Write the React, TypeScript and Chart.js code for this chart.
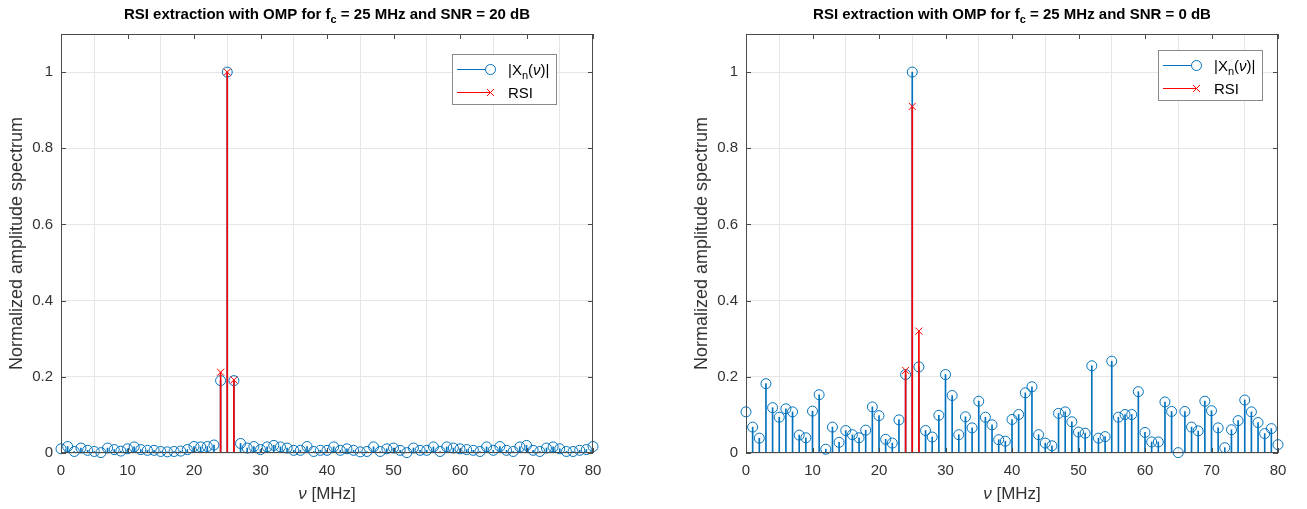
import React, { useEffect, useRef } from 'react';
import { Chart, registerables } from 'chart.js';
Chart.register(...registerables);

const FREQ: number[] = Array.from({ length: 81 }, (_, i) => i);
const X_TICKS = [0, 10, 20, 30, 40, 50, 60, 70, 80];
const Y_TICKS = [0, 0.2, 0.4, 0.6, 0.8, 1];

const AMP_20DB = [
  0.011, 0.017, 0.004, 0.013, 0.007, 0.004, 0.001, 0.013, 0.009, 0.005,
  0.011, 0.016, 0.009, 0.007, 0.007, 0.004, 0.003, 0.004, 0.005, 0.009,
  0.017, 0.016, 0.017, 0.021, 0.19, 1.0, 0.19, 0.025, 0.013, 0.017,
  0.009, 0.016, 0.02, 0.016, 0.013, 0.007, 0.007, 0.017, 0.004, 0.007,
  0.007, 0.016, 0.007, 0.011, 0.007, 0.003, 0.004, 0.016, 0.004, 0.011,
  0.013, 0.007, 0.001, 0.013, 0.007, 0.007, 0.016, 0.004, 0.016, 0.013,
  0.011, 0.009, 0.007, 0.004, 0.016, 0.007, 0.017, 0.007, 0.004, 0.016,
  0.02, 0.007, 0.004, 0.013, 0.016, 0.011, 0.004, 0.004, 0.007, 0.009,
  0.017,
];
const RSI_X_20DB = [24, 25, 26];
const RSI_20DB = [0.212, 1.0, 0.192];

const AMP_0DB = [
  0.108, 0.068, 0.039, 0.182, 0.119, 0.094, 0.116, 0.108, 0.047, 0.04,
  0.11, 0.153, 0.01, 0.068, 0.028, 0.059, 0.048, 0.04, 0.06, 0.121,
  0.098, 0.036, 0.026, 0.087, 0.206, 1.0, 0.226, 0.059, 0.042, 0.099,
  0.206, 0.151, 0.048, 0.095, 0.066, 0.136, 0.094, 0.074, 0.035, 0.031,
  0.088, 0.101, 0.158, 0.174, 0.048, 0.026, 0.019, 0.104, 0.108, 0.082,
  0.055, 0.052, 0.229, 0.039, 0.043, 0.241, 0.094, 0.101, 0.101, 0.161,
  0.054, 0.029, 0.029, 0.134, 0.109, 0.001, 0.109, 0.068, 0.058, 0.136,
  0.111, 0.066, 0.014, 0.061, 0.085, 0.139, 0.108, 0.08, 0.051, 0.064,
  0.022,
];
const RSI_X_0DB = [24, 25, 26];
const RSI_0DB = [0.217, 0.91, 0.32];

const BLUE = '#0072BD';
const RED = '#FF0000';
const FONT = '"Liberation Sans", Arial, Helvetica, sans-serif';
const TEXT = '#333333';

type Part = { t: string; size: number; bold?: boolean; italic?: boolean; dy?: number };

function drawParts(ctx: CanvasRenderingContext2D, parts: Part[], x: number, y: number, align: 'left' | 'center') {
  const fontOf = (p: Part) => `${p.italic ? 'italic ' : ''}${p.bold ? 'bold ' : ''}${p.size}px ${FONT}`;
  let total = 0;
  for (const p of parts) { ctx.font = fontOf(p); total += ctx.measureText(p.t).width; }
  let cx = align === 'center' ? x - total / 2 : x;
  ctx.textAlign = 'left';
  ctx.textBaseline = 'alphabetic';
  for (const p of parts) {
    ctx.font = fontOf(p);
    ctx.fillText(p.t, cx, y + (p.dy || 0));
    cx += ctx.measureText(p.t).width;
  }
}

const decor = {
  id: 'decor',
  afterDraw(chart: any, _a: any, opts: any) {
    const { ctx, chartArea: a } = chart;
    const xs = chart.scales.x, ys = chart.scales.y;
    ctx.save();
    // box
    ctx.strokeStyle = '#4a4a4a';
    ctx.lineWidth = 1;
    ctx.strokeRect(Math.round(a.left) + 0.5, Math.round(a.top) + 0.5, Math.round(a.right - a.left) - 1, Math.round(a.bottom - a.top) - 1);
    // inward ticks
    const TL = 5;
    ctx.beginPath();
    for (const v of X_TICKS) {
      const px = Math.round(xs.getPixelForValue(v)) + 0.5;
      ctx.moveTo(px, a.bottom); ctx.lineTo(px, a.bottom - TL);
      ctx.moveTo(px, a.top); ctx.lineTo(px, a.top + TL);
    }
    for (const v of Y_TICKS) {
      const py = Math.round(ys.getPixelForValue(v)) + 0.5;
      ctx.moveTo(a.left, py); ctx.lineTo(a.left + TL, py);
      ctx.moveTo(a.right, py); ctx.lineTo(a.right - TL, py);
    }
    ctx.stroke();

    // title
    ctx.fillStyle = '#000000';
    drawParts(ctx, [
      { t: 'RSI extraction with OMP for f', size: 15, bold: true },
      { t: 'c', size: 11, bold: true, dy: 4 },
      { t: ` = 25 MHz and SNR = ${opts.snr} dB`, size: 15, bold: true },
    ], (a.left + a.right) / 2, 19, 'center');

    // x label
    ctx.fillStyle = TEXT;
    drawParts(ctx, [
      { t: 'ν', size: 17, italic: true },
      { t: ' [MHz]', size: 17 },
    ], (a.left + a.right) / 2, 499, 'center');

    // legend
    const bx = a.right - opts.lgRight - 104, by = a.top + opts.lgTop;
    ctx.fillStyle = '#ffffff';
    ctx.fillRect(bx, by, 104, 50);
    ctx.strokeStyle = '#8a8a8a';
    ctx.strokeRect(Math.round(bx) + 0.5, Math.round(by) + 0.5, 104, 50);
    const r1 = by + 15.5, r2 = by + 38.5;
    ctx.lineWidth = 1;
    ctx.strokeStyle = BLUE;
    ctx.beginPath(); ctx.moveTo(bx + 5, r1); ctx.lineTo(bx + 33.5, r1); ctx.stroke();
    ctx.beginPath(); ctx.arc(bx + 38.5, r1, 5, 0, Math.PI * 2); ctx.stroke();
    ctx.strokeStyle = RED;
    ctx.beginPath(); ctx.moveTo(bx + 5, r2); ctx.lineTo(bx + 38, r2); ctx.stroke();
    ctx.beginPath();
    ctx.moveTo(bx + 35, r2 - 3.5); ctx.lineTo(bx + 42, r2 + 3.5);
    ctx.moveTo(bx + 35, r2 + 3.5); ctx.lineTo(bx + 42, r2 - 3.5);
    ctx.stroke();
    ctx.fillStyle = '#000000';
    drawParts(ctx, [
      { t: '|X', size: 15 },
      { t: 'n', size: 11, dy: 4 },
      { t: '(', size: 15 },
      { t: 'ν', size: 15, italic: true },
      { t: ')|', size: 15 },
    ], bx + 56, r1 + 5, 'left');
    drawParts(ctx, [{ t: 'RSI', size: 15 }], bx + 56, r2 + 5, 'left');
    ctx.restore();
  },
};

function makeConfig(amp: number[], rsiX: number[], rsi: number[], snr: number, padRight: number, lgRight: number, lgTop: number): any {
  const blue = FREQ.map((f, i) => ({ x: f, y: amp[i] }));
  const red = rsiX.map((f, i) => ({ x: f, y: rsi[i] }));
  return {
    type: 'bar',
    data: {
      datasets: [
        { type: 'bar', data: blue, backgroundColor: BLUE, barThickness: 1, grouped: false, order: 4, borderWidth: 0 },
        { type: 'scatter', data: blue, showLine: false, pointStyle: 'circle', pointRadius: 5, borderColor: BLUE, backgroundColor: 'rgba(0,0,0,0)', borderWidth: 1, order: 3, clip: false },
        { type: 'bar', data: red, backgroundColor: RED, barThickness: 1, grouped: false, order: 2, borderWidth: 0 },
        { type: 'scatter', data: red, showLine: false, pointStyle: 'crossRot', pointRadius: 5, borderColor: RED, borderWidth: 1, order: 1, clip: false },
      ],
    },
    options: {
      animation: false,
      responsive: false,
      devicePixelRatio: 1,
      layout: { padding: { left: 0, right: padRight, top: 34, bottom: 0 } },
      plugins: {
        legend: { display: false },
        tooltip: { enabled: false },
        title: { display: false },
        decor: { snr, lgRight, lgTop },
      },
      scales: {
        x: {
          type: 'linear', min: 0, max: 80, offset: false,
          afterBuildTicks: (s: any) => { s.ticks = X_TICKS.map((v) => ({ value: v })); },
          afterFit: (s: any) => { s.height = 56; },
          grid: { color: '#e6e6e6', drawTicks: false, lineWidth: 1 },
          border: { display: false },
          ticks: { padding: 9, color: TEXT, font: { family: FONT, size: 15 }, maxRotation: 0, callback: (v: number) => String(v) },
        },
        y: {
          type: 'linear', min: 0, max: 1.1,
          afterBuildTicks: (s: any) => { s.ticks = Y_TICKS.map((v) => ({ value: v })); },
          afterFit: (s: any) => { s.width = 61; },
          grid: { color: '#e6e6e6', drawTicks: false, lineWidth: 1 },
          border: { display: false },
          ticks: { padding: 8, color: TEXT, font: { family: FONT, size: 15 }, callback: (v: number) => String(v) },
          title: { display: true, text: 'Normalized amplitude spectrum', color: TEXT, font: { family: FONT, size: 18 }, padding: { top: 6, bottom: 0 } },
        },
      },
    },
    plugins: [decor],
  };
}

function Panel(props: { left: number; width: number; cfg: any }) {
  const ref = useRef<HTMLCanvasElement>(null);
  useEffect(() => {
    const c = new Chart(ref.current as HTMLCanvasElement, props.cfg);
    return () => c.destroy();
  }, []);
  return (
    <canvas ref={ref} width={props.width} height={509}
      style={{ position: 'absolute', left: props.left, top: 0, width: props.width, height: 509 }} />
  );
}

export default function App() {
  return (
    <div style={{ position: 'fixed', left: 0, top: 0, width: 1307, height: 509, background: '#ffffff' }}>
      <Panel left={0} width={653} cfg={makeConfig(AMP_20DB, RSI_X_20DB, RSI_20DB, 20, 60, 37, 20)} />
      <Panel left={685} width={622} cfg={makeConfig(AMP_0DB, RSI_X_0DB, RSI_0DB, 0, 29, 16, 16)} />
    </div>
  );
}
